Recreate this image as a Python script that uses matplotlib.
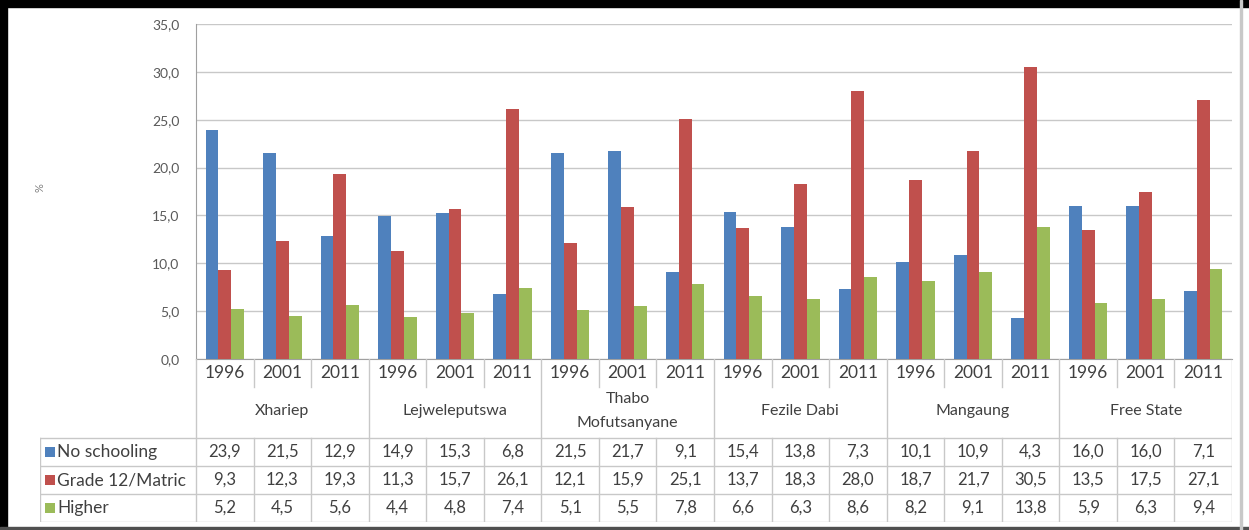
import numpy as np
import matplotlib
matplotlib.use("Agg")
import matplotlib.pyplot as plt
from matplotlib.patches import Rectangle

plt.rcParams['font.family'] = ['Lato', 'DejaVu Sans']

regions = ["Xhariep", "Lejweleputswa", "Thabo\nMofutsanyane", "Fezile Dabi", "Mangaung", "Free State"]
years = ["1996", "2001", "2011"]
series_names = ["No schooling", "Grade 12/Matric", "Higher"]
no_schooling = [23.9, 21.5, 12.9, 14.9, 15.3, 6.8, 21.5, 21.7, 9.1, 15.4, 13.8, 7.3, 10.1, 10.9, 4.3, 16.0, 16.0, 7.1]
grade12 = [9.3, 12.3, 19.3, 11.3, 15.7, 26.1, 12.1, 15.9, 25.1, 13.7, 18.3, 28.0, 18.7, 21.7, 30.5, 13.5, 17.5, 27.1]
higher = [5.2, 4.5, 5.6, 4.4, 4.8, 7.4, 5.1, 5.5, 7.8, 6.6, 6.3, 8.6, 8.2, 9.1, 13.8, 5.9, 6.3, 9.4]
colors = ["#4F81BD", "#C0504D", "#9BBB59"]
yticks = [0, 5, 10, 15, 20, 25, 30, 35]

W, H = 1249, 530
GRID = "#C8C8C8"
TXT = "#404040"

def fmt(v):
    return f"{v:.1f}".replace(".", ",")

fig = plt.figure(figsize=(W / 100, H / 100), dpi=100)

# pixel layout
px_left, px_right, px_top, px_zero = 196, 1232, 24, 359
ax = fig.add_axes([px_left / W, (H - px_zero) / H, (px_right - px_left) / W, (px_zero - px_top) / H])

data = [no_schooling, grade12, higher]
n = len(no_schooling)
x = np.arange(n)
bw = 1 / 4.5
for i, (vals, c) in enumerate(zip(data, colors)):
    ax.bar(x + (i - 1) * bw, vals, width=bw, color=c, zorder=3, linewidth=0)

ax.set_xlim(-0.5, n - 0.5)
ax.set_ylim(0, 35)
ax.set_yticks(yticks)
ax.set_yticklabels([fmt(v) for v in yticks], fontsize=10, color="#595959")
ax.tick_params(axis="y", length=0, pad=12)
ax.set_xticks([])
ax.grid(axis="y", color=GRID, linewidth=1, zorder=0)
for s in ["top", "right"]:
    ax.spines[s].set_visible(False)
ax.spines["left"].set_color("#A0A0A0")
ax.spines["bottom"].set_color("#A0A0A0")
fig.text(40 / W, 1 - 188 / H, "%", fontsize=8, color="#808080", rotation=90, ha="center", va="center")

# data table below the chart
ppu = (px_right - px_left) / n
tab_left = 40
tx0 = -0.5 - (px_left - tab_left) / ppu
tab_bottom = 522
tax = fig.add_axes([tab_left / W, (H - tab_bottom) / H, (px_right - tab_left) / W, (tab_bottom - px_zero) / H])
tax.set_xlim(tx0, n - 0.5)
tax.set_ylim(tab_bottom - px_zero, 0)
tax.axis("off")

row_lines = [79, 107, 135, 163]
for y in row_lines:
    tax.plot([tx0, n - 0.5], [y, y], color=GRID, lw=1)
tax.plot([tx0, tx0], [79, 163], color=GRID, lw=1)
for k in range(n + 1):
    xb = k - 0.5
    if k % 3 == 0:
        tax.plot([xb, xb], [0, 163], color=GRID, lw=1)
    else:
        tax.plot([xb, xb], [0, 28], color=GRID, lw=1)
        tax.plot([xb, xb], [79, 163], color=GRID, lw=1)

for k in range(n):
    tax.text(k, 14, years[k % 3], ha="center", va="center", fontsize=12.5, color=TXT)
for r, name in enumerate(regions):
    tax.text(3 * r + 1, 52, name, ha="center", va="center", fontsize=11.5, color=TXT, linespacing=1.9)

row_y = [93, 121, 149]
for i, (name, vals, c) in enumerate(zip(series_names, data, colors)):
    tax.plot(tx0 + 0.17, row_y[i], marker="s", ms=6.5, color=c, mew=0)
    tax.text(tx0 + 0.3, row_y[i], name, ha="left", va="center", fontsize=12.5, color=TXT)
    for k, v in enumerate(vals):
        tax.text(k, row_y[i], fmt(v), ha="center", va="center", fontsize=12, color=TXT)

# outer frame
fig.patches.append(Rectangle((0, 1 - 7 / H), 1, 7 / H, transform=fig.transFigure, color="black", zorder=10))
fig.patches.append(Rectangle((0, 0), 7 / W, 1, transform=fig.transFigure, color="black", zorder=10))
fig.patches.append(Rectangle((0, 0), 1, 3 / H, transform=fig.transFigure, color="#505050", zorder=10))
fig.patches.append(Rectangle((1240 / W, 0), 1.5 / W, 1, transform=fig.transFigure, color="#C8C8C8", zorder=10))

fig.savefig("out.png", dpi=100)
